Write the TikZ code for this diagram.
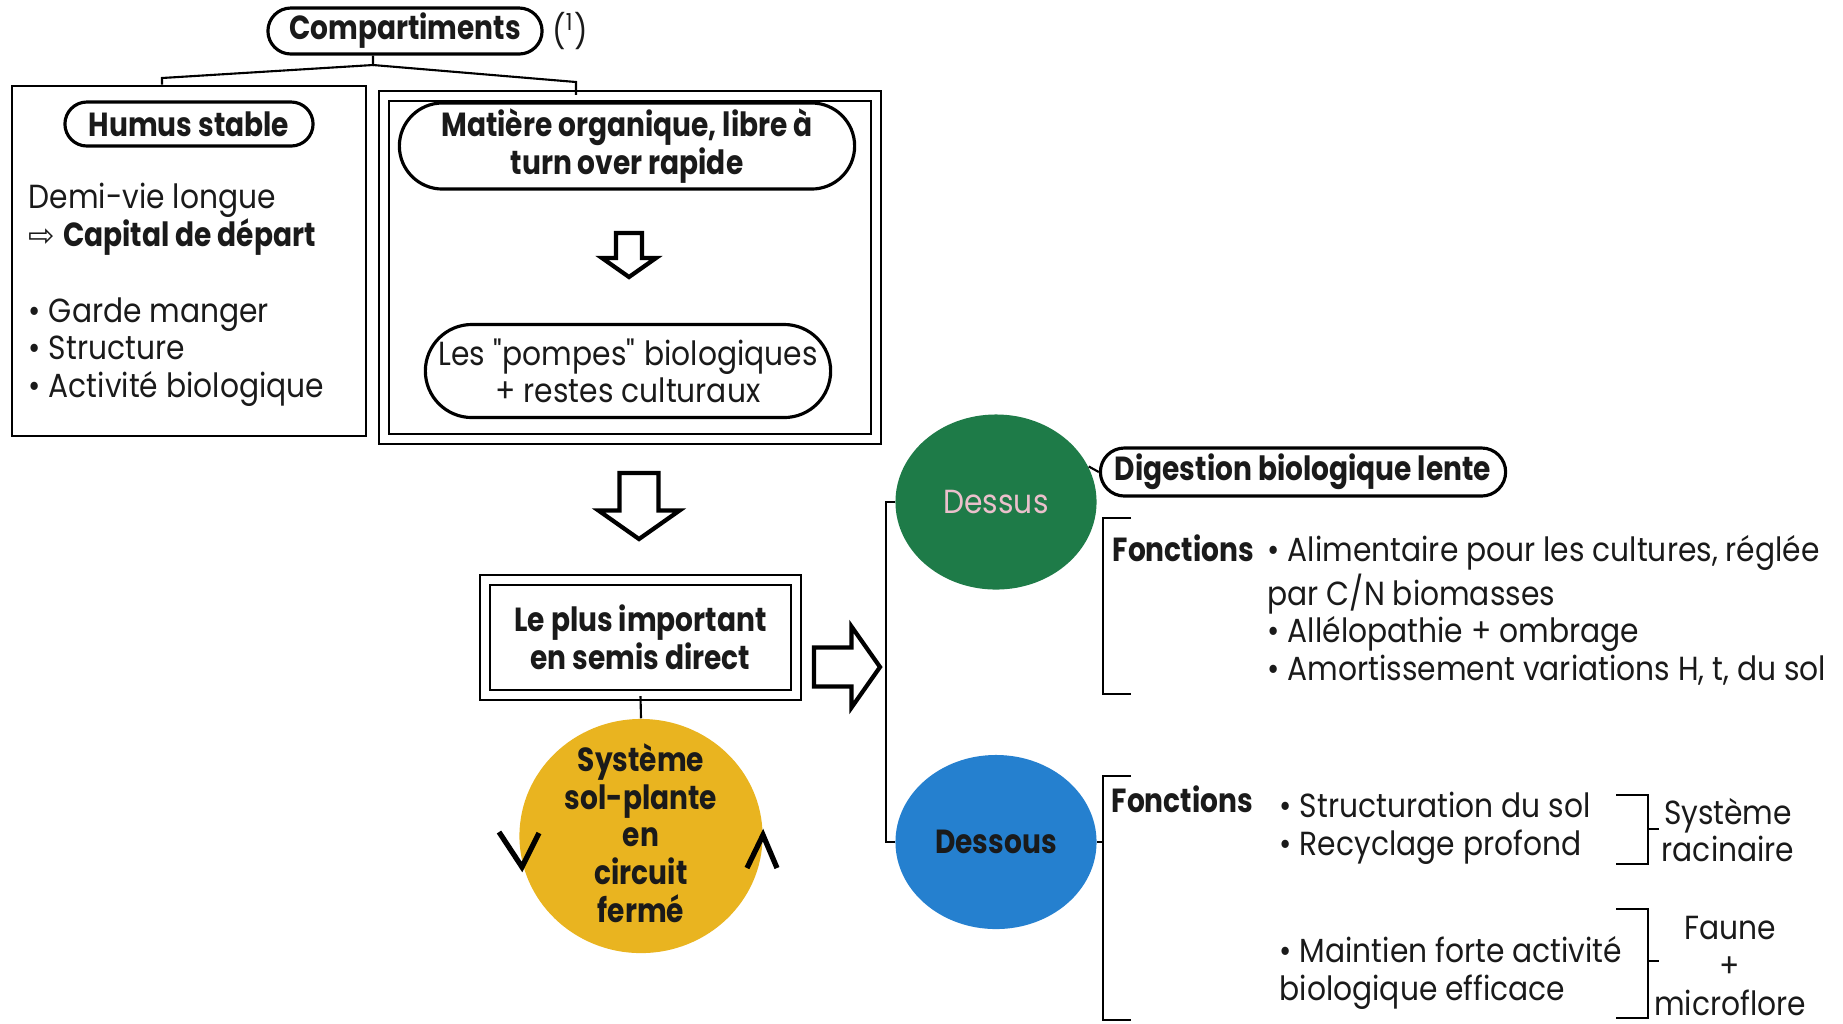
\documentclass[tikz,border=0pt]{standalone}
\usepackage{fontspec}
\setmainfont{Poppins}[FakeStretch=0.89, BoldFeatures={FakeStretch=0.84}]
\newfontfamily\arrowfont{DejaVu Sans}
\usetikzlibrary{shapes.misc, shapes.geometric, positioning, calc}
\definecolor{sysyellow}{HTML}{E9B420}
\definecolor{dessusgreen}{HTML}{1E7B48}
\definecolor{dessousblue}{HTML}{2580CF}
\definecolor{dessuspink}{HTML}{EBC0CC}
\definecolor{inkdark}{HTML}{1A1A1A}
\newcommand\bodyfont{\fontsize{9.5}{10.7}\selectfont}

\begin{document}
\begin{tikzpicture}[
    x=0.01cm, y=-0.01cm, % 1 unit = 1 px of the page, y going down
    every node/.style={font=\bodyfont, align=center, inner sep=0pt, text=inkdark},
    pill/.style={rounded rectangle, draw, line width=0.9pt, font=\bodyfont\bfseries},
    framebox/.style={rectangle, draw, line width=0.7pt},
    dblbox/.style={rectangle, draw, line width=0.6pt, double, double distance=2.2pt},
    blob/.style={ellipse, inner sep=0pt},
    link/.style={line width=0.6pt},
    chevron/.style={line width=1.5pt},
    hollow/.style={line width=1.2pt, fill=white, line join=miter},
    hollowdown/.pic={\draw[hollow] (-13,0) -- (-13,25) -- (-27,25) -- (0,44)
      -- (27,25) -- (13,25) -- (13,0) -- cycle;},
  ]
  \useasboundingbox (0,0) rectangle (1843,1023);

  % --- Compartiments ---
  \node[pill, minimum width=2.74cm, minimum height=0.46cm] (comp) at (405,31)
    {Compartiments};
  \node[right=0.08cm of comp] (note) {(\textsuperscript{1})};

  % --- Left box: humus ---
  \node[framebox, minimum width=3.54cm, minimum height=3.5cm] (leftbox) at (189,261) {};
  \node[pill, minimum width=2.48cm, minimum height=0.44cm] (humus) at (189,124)
    {Humus stable};
  \node[anchor=west, align=left] (halflife) at (28,219)
    {Demi-vie longue\\{\arrowfont\small ⇨} \textbf{Capital de départ}};
  \node[anchor=west, align=left] (roles) at (28,352)
    {• Garde manger\\• Structure\\• Activité biologique};

  % --- Right box: organic matter ---
  \node[dblbox, minimum width=4.91cm, minimum height=3.43cm] (rightbox) at (630,267.5) {};
  \node[pill, minimum width=4.55cm, minimum height=0.86cm] (matiere) at (627,146)
    {Matière organique, libre à\\turn over rapide};
  \node[pill, font=\bodyfont, minimum width=3.85cm, minimum height=0.93cm] (pompes)
    at (628,371) {Les \textquotedbl pompes\textquotedbl\ biologiques\\+ restes culturaux};
  \pic at (629,233) {hollowdown};

  % --- Tree from Compartiments ---
  \coordinate (fork) at (373,65);
  \coordinate (forkL) at (162,78);
  \coordinate (forkR) at (576,82);
  \draw[link] (comp.south -| fork) -- (fork) -- (forkL) -- (forkL |- leftbox.north);
  \draw[link] (fork) -- (forkR) -- (forkR |- rightbox.north);

  % --- Centre column ---
  \pic[scale=1.5] at (639,473) {hollowdown};
  \node[dblbox, minimum width=3.11cm, minimum height=1.15cm, font=\bodyfont\bfseries]
    (important) at (640.5,637.5) {Le plus important\\en semis direct};
  \node[blob, fill=sysyellow, minimum width=2.43cm, minimum height=2.34cm]
    (systeme) at (641,836) {};
  \node[font=\bodyfont\bfseries] (systext) at (641,833)
    {Système\\sol-plante\\en\\circuit\\fermé};
  \draw[link] (important.south) -- (systeme.north);
  \draw[chevron] (499,832) -- (522,867) -- (539,833);
  \draw[chevron] (747,868) -- (763,835) -- (777,868);
  \pic[scale=1.5, rotate=90] at (814,667) {hollowdown};

  % --- Dessus / Dessous ---
  \node[blob, fill=dessusgreen, minimum width=2.01cm, minimum height=1.75cm,
    text=dessuspink] (dessus) at (996,502) {Dessus};
  \node[blob, fill=dessousblue, minimum width=2.01cm, minimum height=1.74cm,
    font=\bodyfont\bfseries] (dessous) at (996,842) {Dessous};
  \draw[link] (dessus.west) -- ++(-9,0) |- (dessous.west);

  \node[pill, minimum width=4.05cm, minimum height=0.48cm] (digest) at (1303,472)
    {Digestion biologique lente};
  \draw[link] (dessus.21) -- (digest.west);

  % Dessus functions
  \draw[link] (1131,518) -- (1103,518) -- (1103,694) -- (1131,694);
  \node[anchor=west, font=\bodyfont\bfseries] (fonc1) at (1112,548) {Fonctions};
  \node[anchor=west, align=left] (fonc1txt) at (1267,610)
    {• Alimentaire pour les cultures, réglée\\par C/N biomasses\\%
     • Allélopathie + ombrage\\• Amortissement variations H, t, du sol};

  % Dessous functions
  \coordinate (brkD) at (1103,842);
  \draw[link] (dessous.east) -- (brkD);
  \draw[link] (1131,776) -- (1103,776) -- (1103,1020) -- (1131,1020);
  \node[anchor=west, font=\bodyfont\bfseries] (fonc2) at (1111,799) {Fonctions};
  \node[anchor=west, align=left] (roots) at (1279,828)
    {• Structuration du sol\\• Recyclage profond};
  \node[anchor=west, align=left] (fauna) at (1279,973)
    {• Maintien forte activité\\biologique efficace};
  \draw[link] (1616,795) -- (1648,795) -- (1648,864) -- (1616,864);
  \draw[link] (1648,829) -- (1659,829);
  \draw[link] (1616,909) -- (1648,909) -- (1648,1018) -- (1616,1018);
  \draw[link] (1648,961) -- (1659,961);
  \node (racine) at (1728,830) {Système\\racinaire};
  \node (faune) at (1730,966) {Faune\\+\\microflore};
\end{tikzpicture}
\end{document}
